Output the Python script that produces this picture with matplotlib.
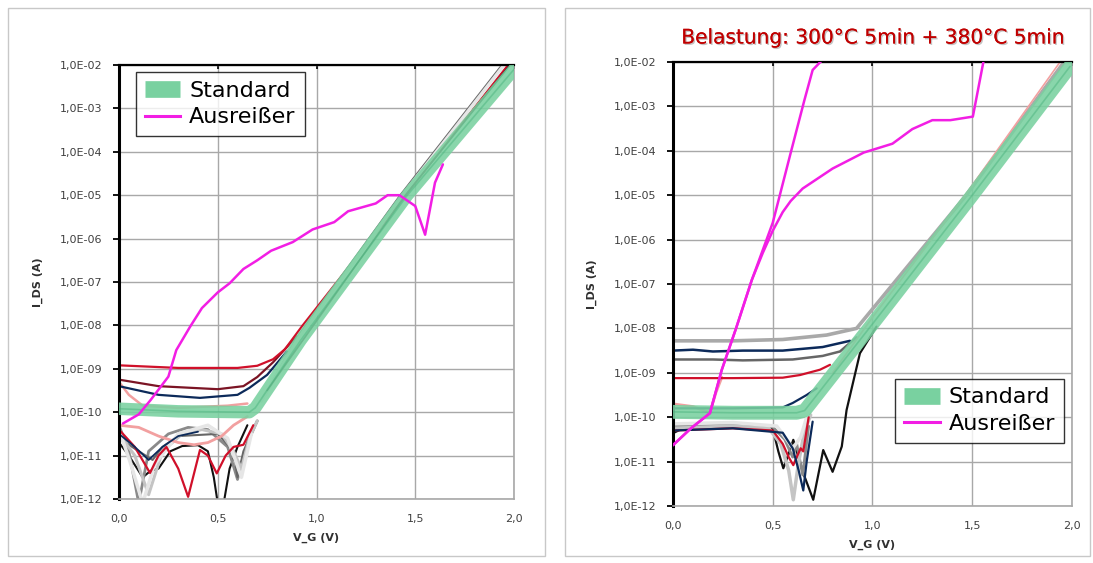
import numpy as np
import matplotlib
matplotlib.use('Agg')
import matplotlib.pyplot as plt
from matplotlib.lines import Line2D
from matplotlib.patches import Rectangle
from matplotlib.ticker import FixedLocator, FuncFormatter, NullLocator
import matplotlib.patheffects as pe

GREEN = '#79d1a0'
GREEN_DARK = '#45b07a'
MAGENTA = '#f21ee4'
RED = '#d0102a'
MAROON = '#7b1424'
NAVY = '#0c2a5a'
BLACK = '#111111'
GRAY = '#8a8a8a'
DGRAY = '#666666'
LGRAY = '#c4c4c4'
WHITE = '#e6e6e6'
SALMON = '#f2a0a0'

title_right = 'Belastung: 300°C 5min + 380°C 5min'
legend_labels = ['Standard', 'Ausreißer']
x_ticks = [0.0, 0.5, 1.0, 1.5, 2.0]
y_exps = list(range(-12, -1))

# ---- left chart (V_G in V, log10 of I_DS) ----
l_band_v = [0.0, 0.3, 0.66, 0.69, 0.92, 1.46, 2.0]
l_band_e = [-9.92, -9.98, -10.0, -9.9, -8.34, -5.0, -2.1]

l_mag_v = [0.02, 0.10, 0.16, 0.25, 0.29, 0.36, 0.42, 0.50, 0.56, 0.63, 0.70, 0.77, 0.88,
           0.98, 1.09, 1.16, 1.30, 1.36, 1.42, 1.50, 1.55, 1.60, 1.64]
l_mag_e = [-10.26, -10.05, -9.72, -9.18, -8.57, -8.03, -7.6, -7.24, -7.03, -6.70, -6.5, -6.28, -6.08,
           -5.79, -5.62, -5.37, -5.19, -5.00, -5.00, -5.25, -5.91, -4.71, -4.29]

l_red_flat_v = [0.0, 0.3, 0.6, 0.7, 0.78, 0.84, 0.93, 1.45, 1.97]
l_red_flat_e = [-8.92, -8.98, -8.98, -8.93, -8.78, -8.55, -8.0, -5.0, -2.0]
l_maroon_v = [0.0, 0.2, 0.5, 0.63, 0.7, 0.78, 0.9]
l_maroon_e = [-9.25, -9.4, -9.47, -9.4, -9.19, -8.85, -8.25]
l_navy_v = [0.0, 0.2, 0.41, 0.6, 0.66, 0.75, 0.85]
l_navy_e = [-9.4, -9.6, -9.67, -9.6, -9.44, -9.14, -8.6]
l_pink_v = [0.0, 0.05, 0.12, 0.3, 0.55, 0.65]
l_pink_e = [-9.3, -9.6, -9.85, -9.9, -9.85, -9.8]

l_dgray_steep_v = [0.74, 0.9, 1.425, 1.94]
l_dgray_steep_e = [-9.6, -8.3, -5.0, -2.0]
l_white_steep_v = [0.72, 0.9, 1.435, 1.95]
l_white_steep_e = [-9.75, -8.35, -5.0, -2.0]
l_black_steep_v = [0.75, 1.0, 1.45, 1.98]
l_black_steep_e = [-9.5, -7.9, -5.0, -2.0]

l_black_v = [0.0, 0.05, 0.12, 0.16, 0.2, 0.26, 0.32, 0.4, 0.45, 0.48, 0.5, 0.53, 0.56, 0.6, 0.65]
l_black_e = [-10.7, -11.0, -11.5, -11.35, -11.3, -10.9, -10.78, -10.76, -10.9, -11.5, -12.1, -12.1, -11.3, -10.8, -10.3]
l_gray_v = [0.0, 0.05, 0.1, 0.15, 0.25, 0.35, 0.45, 0.55, 0.6, 0.65, 0.7]
l_gray_e = [-10.3, -10.9, -12.1, -10.9, -10.5, -10.35, -10.4, -10.8, -11.55, -10.7, -10.2]
l_lgray_v = [0.0, 0.08, 0.15, 0.22, 0.32, 0.42, 0.52, 0.58, 0.62, 0.66, 0.7]
l_lgray_e = [-10.5, -11.0, -11.9, -10.9, -10.5, -10.4, -10.5, -10.9, -11.3, -10.6, -10.2]
l_white_v = [0.0, 0.06, 0.12, 0.18, 0.3, 0.45, 0.55, 0.62, 0.67]
l_white_e = [-10.4, -11.2, -12.1, -11.2, -10.5, -10.3, -10.6, -11.5, -10.5]
l_salmon_v = [0.0, 0.1, 0.2, 0.3, 0.38, 0.45, 0.52, 0.58, 0.65]
l_salmon_e = [-10.3, -10.35, -10.55, -10.7, -10.75, -10.7, -10.55, -10.3, -10.1]
l_red_v = [0.0, 0.08, 0.157, 0.2, 0.24, 0.3, 0.35, 0.41, 0.45, 0.495, 0.54, 0.58, 0.63, 0.68]
l_red_e = [-10.4, -10.8, -11.4, -11.0, -10.8, -11.3, -11.95, -10.87, -11.0, -11.41, -11.0, -10.8, -10.75, -10.3]
l_navy_n_v = [0.0, 0.08, 0.15, 0.22, 0.3, 0.4]
l_navy_n_e = [-10.5, -10.8, -11.1, -10.8, -10.55, -10.45]
l_dgray_v = [0.0, 0.1, 0.17, 0.22, 0.3, 0.5, 0.58, 0.6, 0.63, 0.7]
l_dgray_e = [-10.6, -10.9, -11.1, -10.8, -10.55, -10.5, -10.9, -11.5, -10.9, -10.2]

# ---- right chart ----
r_band_v = [0.0, 0.3, 0.62, 0.66, 1.0, 1.5, 1.99]
r_band_e = [-9.88, -9.9, -9.9, -9.85, -7.9, -5.0, -2.1]

r_mag_a_v = [0.0, 0.09, 0.185, 0.244, 0.316, 0.395, 0.5, 0.588, 0.658, 0.70, 0.76]
r_mag_a_e = [-10.63, -10.25, -9.91, -8.94, -8.0, -6.91, -5.62, -4.08, -2.87, -2.18, -1.9]
r_mag_b_v = [0.0, 0.09, 0.185, 0.244, 0.316, 0.395, 0.45, 0.5, 0.55, 0.59, 0.65, 0.8,
             0.956, 1.1, 1.2, 1.3, 1.39, 1.503, 1.56]
r_mag_b_e = [-10.63, -10.25, -9.91, -8.94, -8.0, -6.91, -6.3, -5.8, -5.38, -5.13, -4.85, -4.4,
             -4.04, -3.84, -3.51, -3.31, -3.31, -3.23, -1.9]

r_lgray_v = [0.0, 0.3, 0.55, 0.77, 0.92, 1.47, 1.96]
r_lgray_e = [-8.28, -8.28, -8.25, -8.15, -8.0, -5.0, -2.0]
r_navy_v = [0.0, 0.1, 0.2, 0.35, 0.55, 0.75, 0.887]
r_navy_e = [-8.5, -8.48, -8.52, -8.5, -8.5, -8.42, -8.28]
r_dgray_v = [0.0, 0.2, 0.35, 0.6, 0.75, 0.837, 0.92]
r_dgray_e = [-8.7, -8.7, -8.72, -8.7, -8.62, -8.52, -8.2]
r_red_v = [0.0, 0.3, 0.55, 0.637, 0.737, 0.787]
r_red_e = [-9.12, -9.12, -9.11, -9.05, -8.93, -8.82]
r_navy2_v = [0.0, 0.3, 0.55, 0.60, 0.67, 0.72]
r_navy2_e = [-9.8, -9.8, -9.78, -9.68, -9.5, -9.35]
r_salmon_v = [0.0, 0.1, 0.185, 0.215, 0.245]
r_salmon_e = [-9.7, -9.76, -9.9, -9.45, -9.1]
r_pink_steep_v = [0.8, 1.0, 1.465, 1.94]
r_pink_steep_e = [-9.0, -7.75, -5.0, -2.0]

r_black_v = [0.0, 0.05, 0.2, 0.44, 0.5, 0.528, 0.553, 0.578, 0.603, 0.653, 0.703, 0.753,
             0.80, 0.846, 0.87, 0.937, 1.02]
r_black_e = [-10.36, -10.25, -10.22, -10.2, -10.25, -10.77, -11.15, -10.85, -10.51, -11.26, -11.86, -10.74,
             -11.23, -10.66, -9.84, -8.56, -7.96]
r_lgray_n_v = [0.0, 0.3, 0.48, 0.54, 0.58, 0.603, 0.63, 0.66, 0.69]
r_lgray_n_e = [-10.25, -10.2, -10.25, -10.6, -11.2, -11.86, -11.0, -10.3, -9.95]
r_red_n_v = [0.0, 0.3, 0.5, 0.55, 0.58, 0.603, 0.62, 0.64, 0.653, 0.68]
r_red_n_e = [-10.3, -10.25, -10.3, -10.6, -10.9, -11.08, -10.9, -10.7, -10.77, -10.0]
r_navy_n_v = [0.0, 0.3, 0.55, 0.6, 0.63, 0.653, 0.67, 0.7]
r_navy_n_e = [-10.3, -10.25, -10.35, -10.7, -11.2, -11.65, -11.0, -10.1]
r_gray_n_v = [0.0, 0.3, 0.5, 0.56, 0.6, 0.62, 0.65, 0.68]
r_gray_n_e = [-10.2, -10.18, -10.22, -10.5, -10.9, -10.6, -11.3, -10.2]
r_white_n_v = [0.0, 0.3, 0.52, 0.57, 0.6, 0.64, 0.67]
r_white_n_e = [-10.15, -10.12, -10.2, -10.5, -10.7, -10.45, -10.0]


def curve(ax, v, e, color, lw=1.5, z=2, alpha=1.0):
    ax.plot(v, np.power(10.0, e), color=color, lw=lw, zorder=z, alpha=alpha,
            solid_joinstyle='round', solid_capstyle='round')


def setup(ax):
    ax.set_yscale('log')
    ax.set_xlim(0, 2)
    ax.set_ylim(1e-12, 1e-2)
    ax.xaxis.set_major_locator(FixedLocator(x_ticks))
    ax.yaxis.set_major_locator(FixedLocator([10.0 ** k for k in y_exps]))
    ax.yaxis.set_minor_locator(NullLocator())
    ax.xaxis.set_major_formatter(FuncFormatter(lambda x, p: ('%.1f' % x).replace('.', ',')))
    ax.yaxis.set_major_formatter(FuncFormatter(
        lambda y, p: '1,0E-%02d' % int(round(-np.log10(y)))))
    ax.grid(True, color='#a8a8a8', lw=1.0)
    ax.set_axisbelow(True)
    for s in ['bottom', 'right']:
        ax.spines[s].set_color('#a8a8a8')
        ax.spines[s].set_linewidth(1.2)
    ax.spines['left'].set_linewidth(2.2)
    ax.spines['left'].set_color('black')
    ax.spines['top'].set_linewidth(1.6)
    ax.spines['top'].set_color('black')
    ax.tick_params(axis='y', direction='out', length=4, width=1.3, color='black',
                   labelsize=8, labelcolor='#404040', pad=8)
    ax.tick_params(axis='x', bottom=False, top=True, direction='in', length=3, width=1.2,
                   color='black', labelsize=8, labelcolor='#404040', pad=11)
    ax.set_xlabel('V_G (V)', fontsize=8, fontweight='bold', color='#303030', labelpad=6)
    ax.set_ylabel('I_DS (A)', fontsize=8, fontweight='bold', color='#303030', labelpad=12)


def band(ax, v, e, lw):
    curve(ax, v, e, GREEN, lw=lw, z=5, alpha=0.88)
    curve(ax, v, e, GREEN_DARK, lw=1.2, z=5, alpha=0.45)


def legend(ax, loc, anchor):
    handles = [Line2D([], [], color=GREEN, lw=12, solid_capstyle='butt'),
               Line2D([], [], color=MAGENTA, lw=2.2)]
    lg = ax.legend(handles, legend_labels, loc=loc, bbox_to_anchor=anchor, borderaxespad=0,
                   fontsize=16, frameon=True, fancybox=False, handlelength=1.6,
                   handletextpad=0.4, labelspacing=0.3, borderpad=0.4)
    lg.get_frame().set_edgecolor('black')
    lg.get_frame().set_linewidth(1.0)
    lg.set_zorder(10)


fig = plt.figure(figsize=(10.93, 5.63), dpi=100)
fig.patches.append(Rectangle((8 / 1093, 1 - 556 / 563), 537 / 1093, 548 / 563, transform=fig.transFigure,
                             fill=False, edgecolor='#c8c8c8', lw=1.0))
fig.patches.append(Rectangle((565 / 1093, 1 - 556 / 563), 525 / 1093, 548 / 563, transform=fig.transFigure,
                             fill=False, edgecolor='#c8c8c8', lw=1.0))

axl = fig.add_axes([119 / 1093, 1 - 499 / 563, 395 / 1093, 434 / 563])
setup(axl)
for v, e, c, w in [(l_black_v, l_black_e, BLACK, 1.5), (l_gray_v, l_gray_e, GRAY, 2.0),
                   (l_dgray_v, l_dgray_e, DGRAY, 1.5), (l_lgray_v, l_lgray_e, LGRAY, 2.2),
                   (l_white_v, l_white_e, WHITE, 2.5), (l_salmon_v, l_salmon_e, SALMON, 2.0),
                   (l_red_v, l_red_e, RED, 1.6), (l_navy_n_v, l_navy_n_e, NAVY, 1.3),
                   (l_pink_v, l_pink_e, SALMON, 1.8), (l_maroon_v, l_maroon_e, MAROON, 1.6),
                   (l_navy_v, l_navy_e, NAVY, 1.6), (l_red_flat_v, l_red_flat_e, RED, 1.6),
                   (l_dgray_steep_v, l_dgray_steep_e, DGRAY, 1.6),
                   (l_white_steep_v, l_white_steep_e, WHITE, 2.5),
                   (l_black_steep_v, l_black_steep_e, BLACK, 1.2)]:
    curve(axl, v, e, c, lw=w)
band(axl, l_band_v, l_band_e, 9)
curve(axl, l_mag_v, l_mag_e, MAGENTA, lw=1.8, z=6)
legend(axl, 'upper left', (0.043, 0.984))

axr = fig.add_axes([673 / 1093, 1 - 506 / 563, 399 / 1093, 444 / 563])
setup(axr)
for v, e, c, w in [(r_black_v, r_black_e, BLACK, 1.6), (r_gray_n_v, r_gray_n_e, GRAY, 2.0),
                   (r_lgray_n_v, r_lgray_n_e, LGRAY, 2.5), (r_white_n_v, r_white_n_e, WHITE, 2.5),
                   (r_red_n_v, r_red_n_e, RED, 1.6), (r_navy_n_v, r_navy_n_e, NAVY, 1.6),
                   (r_salmon_v, r_salmon_e, SALMON, 2.0), (r_navy2_v, r_navy2_e, NAVY, 1.6),
                   (r_red_v, r_red_e, RED, 1.6), (r_dgray_v, r_dgray_e, DGRAY, 1.8),
                   (r_navy_v, r_navy_e, NAVY, 1.8), (r_lgray_v, r_lgray_e, '#a9a9a9', 2.6),
                   (r_pink_steep_v, r_pink_steep_e, SALMON, 1.2)]:
    curve(axr, v, e, c, lw=w)
band(axr, r_band_v, r_band_e, 10)
curve(axr, r_mag_a_v, r_mag_a_e, MAGENTA, lw=1.8, z=6)
curve(axr, r_mag_b_v, r_mag_b_e, MAGENTA, lw=1.8, z=6)
legend(axr, 'lower right', (0.98, 0.142))

fig.text(873 / 1093, 1 - 38 / 563, title_right, color='#c00000', fontsize=14.5,
         ha='center', va='center',
         path_effects=[pe.withSimplePatchShadow(offset=(1, -1), shadow_rgbFace='#888888', alpha=0.5),
                       pe.Normal()])

fig.savefig('out.png', dpi=100)
